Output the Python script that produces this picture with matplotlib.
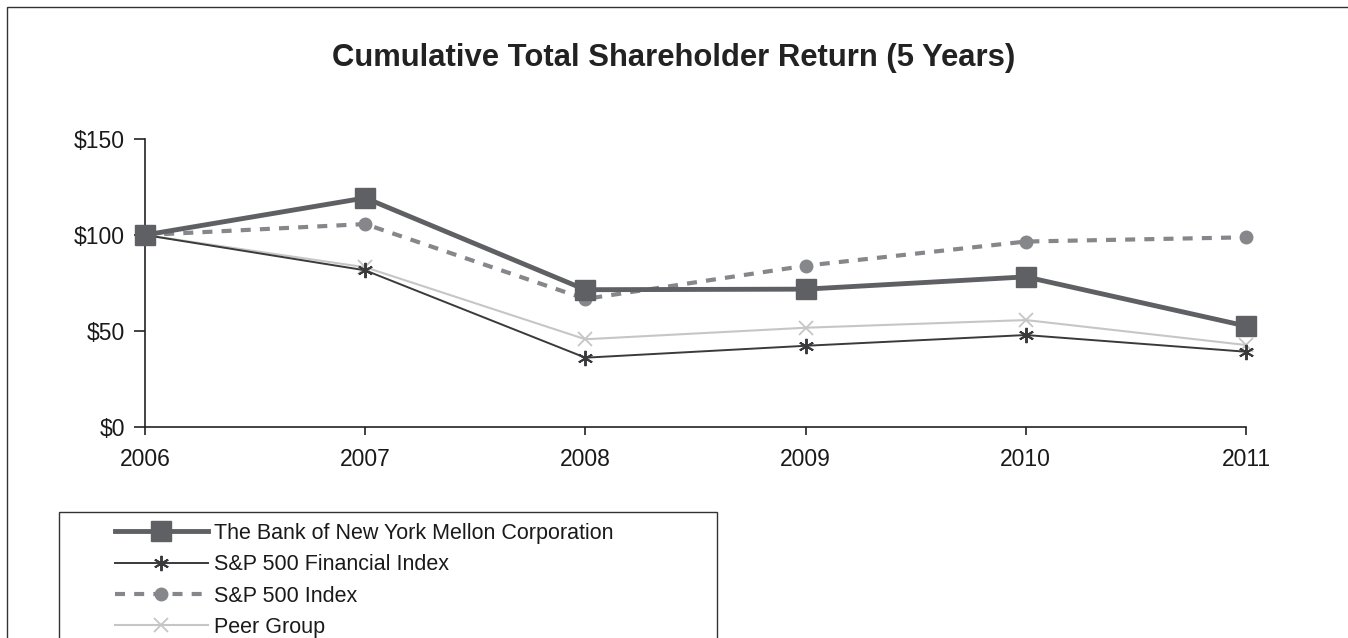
#
#   cumulative total shareholder return, 5 years
#

import matplotlib.pyplot as plt
from matplotlib.patches import Rectangle
from matplotlib.ticker import FuncFormatter

years = [2006, 2007, 2008, 2009, 2010, 2011]
bny = [100, 119.3, 71.5, 71.8, 78.2, 52.6]
sp_fin = [100, 81.6, 36.1, 42.3, 47.9, 39.2]
sp_500 = [100, 105.7, 66.7, 84.0, 96.6, 98.8]
peer = [100, 83.2, 45.7, 51.7, 55.7, 42.7]

plt.rcParams['font.family'] = ['Liberation Sans', 'DejaVu Sans']

W, H = 1348, 638
fig = plt.figure(figsize=(W / 100, H / 100), dpi=100)
ax = fig.add_axes([145 / W, 1 - 427 / H, 1101 / W, 288 / H])

ax.plot(years, bny, color='#5f6064', lw=3.5, marker='s', ms=14,
        label='The Bank of New York Mellon Corporation', zorder=4)
ax.plot(years, sp_fin, color='#3a3a3c', lw=1.4, marker=(6, 2, 0), ms=11,
        mew=1.4, label='S&P 500 Financial Index', zorder=3)
ax.plot(years, sp_500, color='#86878b', lw=3, ls=(0, (2.4, 2.2)), marker='o',
        ms=9, label='S&P 500 Index', zorder=2)
ax.plot(years, peer, color='#c6c6c6', lw=1.5, marker='x', ms=10, mew=1.3,
        label='Peer Group', zorder=1)

ax.set_xlim(2006, 2011)
ax.set_ylim(0, 150)
ax.set_xticks(years)
ax.set_yticks([0, 50, 100, 150])
ax.yaxis.set_major_formatter(FuncFormatter(lambda v, p: f'${v:.0f}'))
for s in ['top', 'right']:
    ax.spines[s].set_visible(False)
for s in ['left', 'bottom']:
    ax.spines[s].set_color('#222222')
    ax.spines[s].set_linewidth(1.2)
ax.tick_params(axis='both', direction='out', width=1.2, color='#222222',
               labelsize=16.5, labelcolor='#1a1a1a')
ax.tick_params(axis='y', length=8, pad=6.5)
ax.tick_params(axis='x', length=6, pad=9)
for ln in ax.lines:
    ln.set_clip_on(False)

fig.text(0.5, 1 - 66 / H, 'Cumulative Total Shareholder Return (5 Years)',
         ha='center', va='baseline', fontsize=22.3, fontweight='bold',
         color='#222222')

leg = fig.legend(loc='upper left', bbox_to_anchor=(115 / W, 1 - 523 / H),
                 fontsize=15.5, frameon=False, handlelength=4.3,
                 handletextpad=0.28, borderpad=0, labelspacing=0.48,
                 borderaxespad=0)
for t in leg.get_texts():
    t.set_color('#1a1a1a')

# legend box, cut off by the bottom of the picture
fig.patches.append(Rectangle((59 / W, -0.1), 658 / W, 0.1 + 1 - 512 / H,
                             transform=fig.transFigure, fill=False,
                             edgecolor='#333333', lw=1))
# outer frame
fig.patches.append(Rectangle((7 / W, -0.1), 1.5, 1 - 7 / H + 0.1,
                             transform=fig.transFigure, fill=False,
                             edgecolor='#333333', lw=1))

fig.savefig('out.png', dpi=100)
